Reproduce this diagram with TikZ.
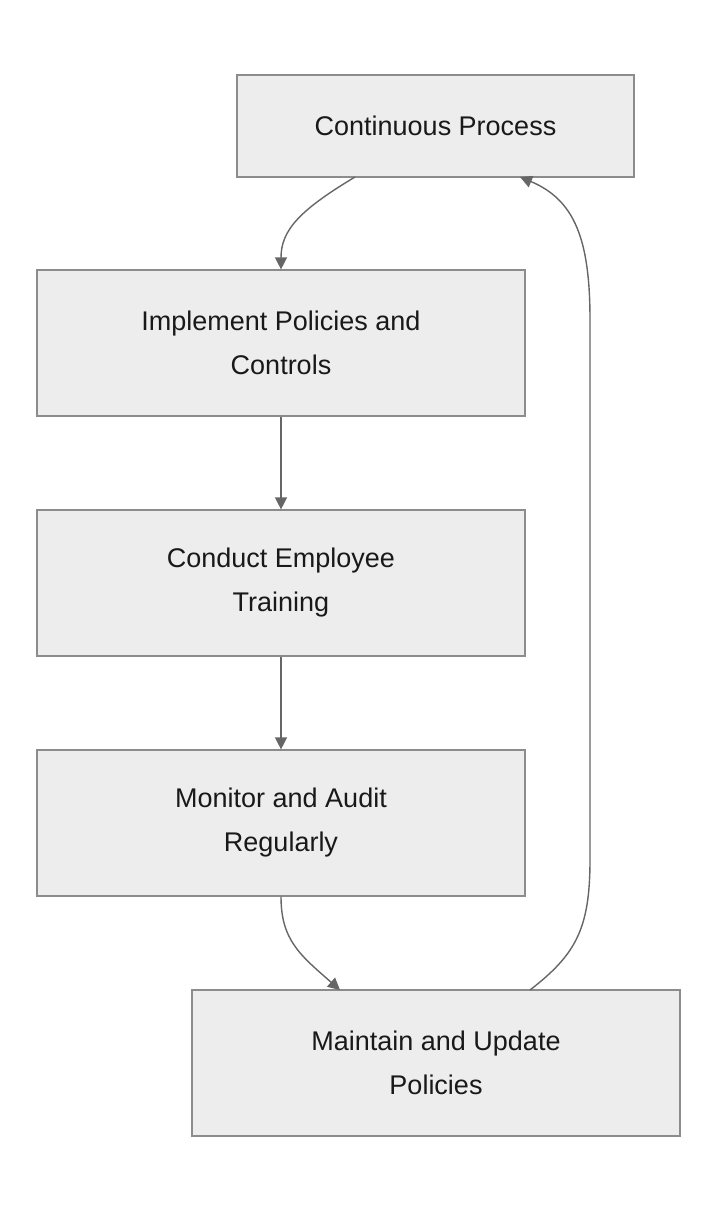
\documentclass[tikz,border=0pt]{standalone}
\usepackage{fontspec}
\setmainfont{Liberation Sans}
\usetikzlibrary{arrows.meta}
\begin{document}
\begin{tikzpicture}[x=1pt,y=-1pt,
  box/.style={draw=black!45,fill=black!7,line width=1.2pt,align=center,font=\fontsize{27}{44}\selectfont,text=black!90},
  arr/.style={draw=black!60,line width=1.4pt,-{Triangle[length=12pt,width=12pt]}}]
\useasboundingbox (0,0) rectangle (718,1212);
\node[box,minimum width=397,minimum height=102] (cp) at (435.5,126) {Continuous Process};
\node[box,minimum width=488,minimum height=146] (ip) at (281,343) {Implement Policies and\\Controls};
\node[box,minimum width=488,minimum height=146] (ct) at (281,583) {Conduct Employee\\Training};
\node[box,minimum width=488,minimum height=146] (ma) at (281,823) {Monitor and Audit\\Regularly};
\node[box,minimum width=488,minimum height=146] (mu) at (436,1063) {Maintain and Update\\Policies};
\coordinate (a1) at (355,177);
\coordinate (a2) at (530,990);
\draw[arr] (a1) .. controls (300,210) and (281,230) .. (ip.north);
\draw[arr] (ip.south) -- (ct.north);
\draw[arr] (ct.south) -- (ma.north);
\draw[arr] (ma.south) .. controls (281,940) and (300,955) .. (340,990);
\draw[arr] (a2) .. controls (575,955) and (590,930) .. (590,860) -- (590,320) .. controls (590,240) and (575,200) .. (520,177);
\end{tikzpicture}
\end{document}
